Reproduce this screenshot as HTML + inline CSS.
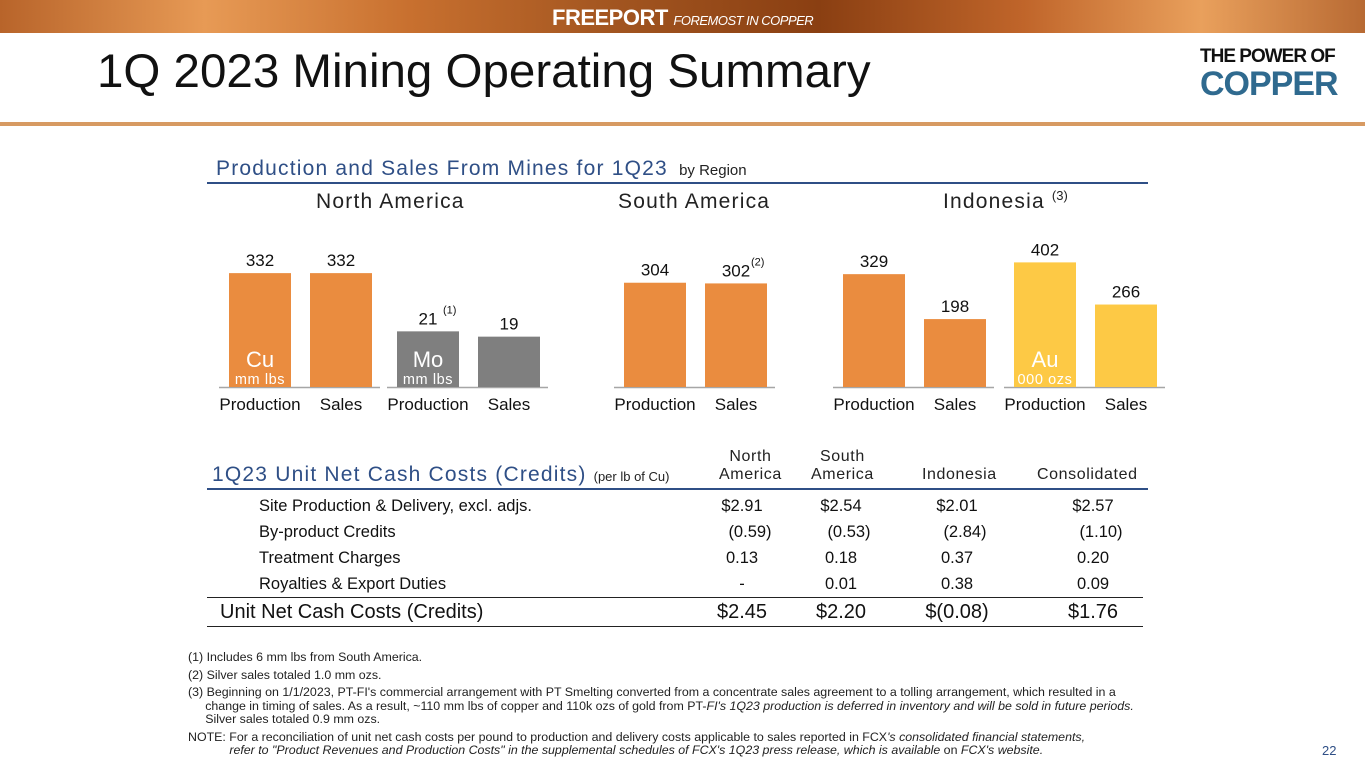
<!DOCTYPE html>
<html><head><meta charset="utf-8"><style>
body{margin:0;width:1365px;height:768px;overflow:hidden;background:#fff;font-family:"Liberation Sans",sans-serif;position:relative}
.a{position:absolute;white-space:nowrap}
.hdr{position:absolute;left:0;top:0;width:1365px;height:33px;background:linear-gradient(90deg,#b8642a 0%,#e79a55 15%,#c8702f 30%,#a25520 45%,#8a3f12 60%,#c0652a 75%,#e9a05c 88%,#b86a33 100%)}
</style></head><body>
<div class="hdr"></div>
<div class="a" style="left:552px;top:5px;color:#fff;font-weight:bold;font-size:22px;letter-spacing:-0.5px">FREEPORT <span style="font-size:13px;font-weight:normal;font-style:italic">FOREMOST IN COPPER</span></div>
<div class="a" style="left:97px;top:44px;font-size:47.5px;color:#111">1Q 2023 Mining Operating Summary</div>
<div class="a" style="left:1200px;top:46px;font-size:19px;font-weight:bold;color:#111;letter-spacing:-1px">THE POWER OF<div style="font-size:34px;color:#2f6a8f;line-height:32px;letter-spacing:-1px">COPPER</div></div>
<div class="a" style="left:0;top:122px;width:1365px;height:4px;background:#d79a62"></div>

<div class="a" style="left:216px;top:157px;font-size:21px;color:#2f4f86;letter-spacing:1.2px">Production and Sales From Mines for 1Q23 <span style="font-size:15px;color:#222;letter-spacing:0">&nbsp;by Region</span></div>
<div class="a" style="left:207px;top:182px;width:941px;height:2px;background:#2f4f86"></div>
<div class="a" style="left:316px;top:190px;font-size:21px;color:#222;letter-spacing:1.2px">North America</div>
<div class="a" style="left:618px;top:190px;font-size:21px;color:#222;letter-spacing:1.2px">South America</div>
<div class="a" style="left:943px;top:190px;font-size:21px;color:#222;letter-spacing:1.2px">Indonesia <span style="font-size:13px;position:relative;top:-8px;letter-spacing:0">(3)</span></div>

<svg id="ch" class="a" style="left:0;top:0" width="1365" height="420"></svg>

<div class="a" style="left:212px;top:463px;font-size:21px;color:#2f4f86;letter-spacing:1.2px">1Q23 Unit Net Cash Costs (Credits) <span style="font-size:13px;color:#222;letter-spacing:0">(per lb of Cu)</span></div>
<div class="a" style="left:719px;top:448px;font-size:16px;color:#222;text-align:center;line-height:18px;letter-spacing:0.6px">North<br>America</div>
<div class="a" style="left:811px;top:448px;font-size:16px;color:#222;text-align:center;line-height:18px;letter-spacing:0.6px">South<br>America</div>
<div class="a" style="left:922px;top:466px;font-size:16px;color:#222;letter-spacing:0.6px">Indonesia</div>
<div class="a" style="left:1037px;top:466px;font-size:16px;color:#222;letter-spacing:0.6px">Consolidated</div>
<div class="a" style="left:207px;top:488px;width:941px;height:2px;background:#2f4f86"></div>
<div id="rows"></div>
<div class="a" style="left:207px;top:597px;width:936px;height:1px;background:#222"></div>
<div class="a" style="left:207px;top:626px;width:936px;height:1px;background:#222"></div>

<div class="a" style="left:188px;top:651px;font-size:12.4px;color:#222;line-height:13.5px">
<div style="margin-bottom:4px">(1) Includes 6 mm lbs from South America.</div>
<div style="margin-bottom:4px">(2) Silver sales totaled 1.0 mm ozs.</div>
<div style="margin-bottom:4px">(3) Beginning on 1/1/2023, PT-FI's commercial arrangement with PT Smelting converted from a concentrate sales agreement to a tolling arrangement, which resulted in a<br>&nbsp;&nbsp;&nbsp;&nbsp;&nbsp;change in timing of sales. As a result, ~110 mm lbs of copper and 110k ozs of gold from PT-<i>FI's 1Q23 production is deferred in inventory and will be sold in future periods.</i><br>&nbsp;&nbsp;&nbsp;&nbsp;&nbsp;Silver sales totaled 0.9 mm ozs.</div>
<div>NOTE: For a reconciliation of unit net cash costs per pound to production and delivery costs applicable to sales reported in FCX<i>'s consolidated financial statements,</i><br>&nbsp;&nbsp;&nbsp;&nbsp;&nbsp;&nbsp;&nbsp;&nbsp;&nbsp;&nbsp;&nbsp;&nbsp;<i>refer to "Product Revenues and Production Costs" in the supplemental schedules of FCX's 1Q23 press release, which is available</i> on <i>FCX's website.</i></div>
</div>
<div class="a" style="left:1322px;top:743px;font-size:13px;color:#2f4f86">22</div>

<script>
const groups=["na-cu","na-mo","sa-cu","id-cu","id-au"];
const production=[332,21,304,329,402];
const sales=[332,19,302,198,266];
const groupScale=[0.343,2.65,0.343,0.343,0.31];
const groupColors=["#ea8c3f","#7f7f7f","#ea8c3f","#ea8c3f","#fdc945"];
const groupX=[219,387,614,833,1004];
const groupLabels=[["Cu","mm lbs"],["Mo","mm lbs"],null,null,["Au","000 ozs"]];
const prodNotes=["","(1)","","",""];
const salesNotes=["","","(2)","",""];
const NS="http://www.w3.org/2000/svg";
const svg=document.getElementById('ch');
const base=387;
function y(v,i){return base-v*groupScale[i];}
function mk(t,a){const e=document.createElementNS(NS,t);for(const k in a)e.setAttribute(k,a[k]);svg.appendChild(e);return e;}
groups.forEach((g,i)=>{
  const x0=groupX[i];
  const ax=mk('line',{x1:x0,x2:x0+161,y1:base+0.5,y2:base+0.5,stroke:'#a6a6a6','stroke-width':1.5});
  
  
  [[production[i],x0+10,'production',prodNotes[i]],[sales[i],x0+91,'sales',salesNotes[i]]].forEach(([v,bx,kind,note])=>{
    const r=mk('rect',{x:bx,y:y(v,i),width:62,height:base-y(v,i),fill:groupColors[i]});
    
    
    const t=mk('text',{x:bx+31,y:y(v,i)-7,'text-anchor':'middle','font-size':17,fill:'#111'});
    t.textContent=v;
    
    
    if(note){const n=mk('text',{x:bx+46,y:y(v,i)-18,'font-size':11,fill:'#111'});n.textContent=note;
      
      }
    const l=mk('text',{x:bx+31,y:410,'text-anchor':'middle','font-size':17,fill:'#111'});
    l.textContent=kind==='production'?'Production':'Sales';
    
    
  });
  if(groupLabels[i]){
    const a=mk('text',{x:x0+41,y:367,'text-anchor':'middle','font-size':22,fill:'#fff'});a.textContent=groupLabels[i][0];
    
    
    const b=mk('text',{x:x0+41,y:384,'text-anchor':'middle','font-size':14.5,fill:'#fff','letter-spacing':'0.6'});b.textContent=groupLabels[i][1];
    
    
  }
});
const rowNames=["Site Production & Delivery, excl. adjs.","By-product Credits","Treatment Charges","Royalties & Export Duties"];
const colNA=["$2.91","(0.59)","0.13","-"];
const colSA=["$2.54","(0.53)","0.18","0.01"];
const colID=["$2.01","(2.84)","0.37","0.38"];
const colCons=["$2.57","(1.10)","0.20","0.09"];
const totals=["$2.45","$2.20","$(0.08)","$1.76"];
const colCenters=[742,841,957,1093];
const rows=document.getElementById('rows');
function txt(s,x,t,fs,name,anchor){const d=document.createElement('div');d.className='a';d.textContent=s;
  d.style.top=t+'px';d.style.fontSize=fs+'px';d.style.color='#111';
  if(anchor){d.style.left=(x-60)+'px';d.style.width='120px';d.style.textAlign='center';}else d.style.left=x+'px';
  
  
  rows.appendChild(d);}
rowNames.forEach((r,i)=>{
  const t=497+i*26;
  txt(r,259,t,16.5,'row-label-'+i);
  [colNA,colSA,colID,colCons].forEach((c,j)=>txt(c[i],colCenters[j]+(c[i].startsWith('(')?8:0),t,16.5,'cell-'+i+'-'+j,true));
});
txt('Unit Net Cash Costs (Credits)',220,601,20,'total-row-label');
totals.forEach((v,j)=>txt(v,colCenters[j],601,20,'total-cell-'+j,true));
</script>
</body></html>
